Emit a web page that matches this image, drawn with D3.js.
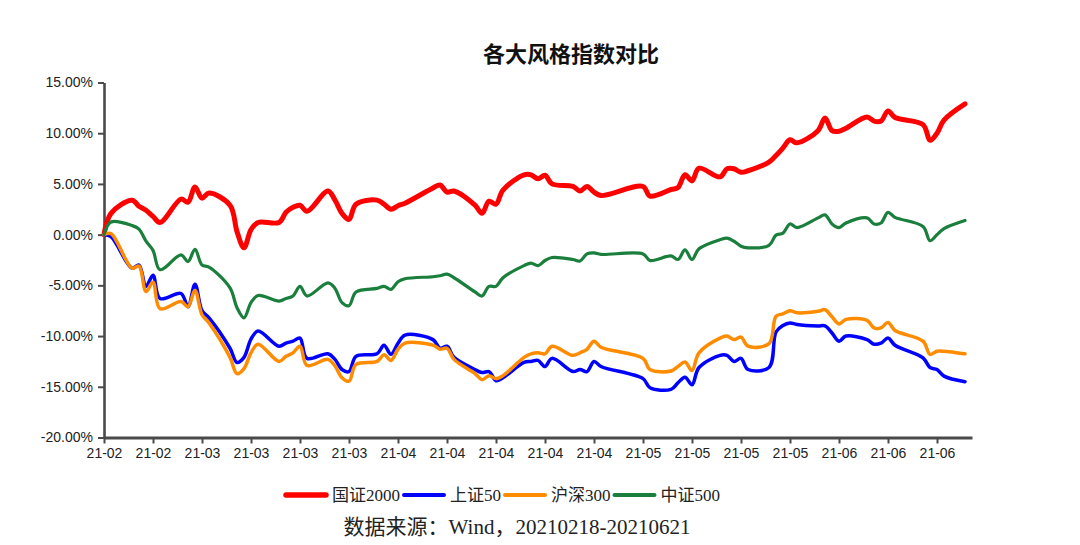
<!DOCTYPE html>
<html><head><meta charset="utf-8">
<script src="https://cdn.jsdelivr.net/npm/d3@7"></script>
<style>body{margin:0;background:#fff;} svg{display:block;}</style>
</head><body><svg id="chart" width="1080" height="545"></svg>
<script>
// ---- data ----
const dates = [
"2021-02-18","2021-02-19","2021-02-22","2021-02-23","2021-02-24","2021-02-25","2021-02-26",
"2021-03-01","2021-03-02","2021-03-03","2021-03-04","2021-03-05","2021-03-08","2021-03-09","2021-03-10","2021-03-11","2021-03-12",
"2021-03-15","2021-03-16","2021-03-17","2021-03-18","2021-03-19","2021-03-22","2021-03-23","2021-03-24","2021-03-25","2021-03-26",
"2021-03-29","2021-03-30","2021-03-31","2021-04-01","2021-04-02","2021-04-06","2021-04-07","2021-04-08","2021-04-09",
"2021-04-12","2021-04-13","2021-04-14","2021-04-15","2021-04-16","2021-04-19","2021-04-20","2021-04-21","2021-04-22","2021-04-23",
"2021-04-26","2021-04-27","2021-04-28","2021-04-29","2021-04-30","2021-05-06","2021-05-07",
"2021-05-10","2021-05-11","2021-05-12","2021-05-13","2021-05-14","2021-05-17","2021-05-18","2021-05-19","2021-05-20","2021-05-21",
"2021-05-24","2021-05-25","2021-05-26","2021-05-27","2021-05-28","2021-05-31","2021-06-01","2021-06-02","2021-06-03","2021-06-04",
"2021-06-07","2021-06-08","2021-06-09","2021-06-10","2021-06-11","2021-06-15","2021-06-16","2021-06-17","2021-06-18","2021-06-21"];

const seriesNames = ["国证2000", "上证50", "沪深300", "中证500"];

const gz2000 = [0,2.1,3.4,2.8,2.4,1.8,1.2,3.5,3.2,4.7,3.6,4.1,2.9,0.3,-1.3,0.5,1.2,1.2,2.2,2.7,
2.9,2.3,4.3,3.4,2.1,1.5,3.0,3.4,3.0,2.5,2.85,3.1,4.6,4.9,4.2,4.3,2.9,2.1,3.3,3.0,
4.4,5.9,5.9,5.5,5.85,5.0,4.75,4.3,4.75,4.2,3.85,4.75,3.8,4.45,4.65,5.9,5.3,6.55,5.7,6.5,
6.5,6.15,6.3,7.15,7.8,8.55,9.35,9.05,10.25,11.5,10.25,10.2,10.5,11.6,11.2,11.2,12.2,11.55,10.85,9.3,
10.0,11.3,12.9];

const sz50 = [0,-0.2,-3.3,-3.0,-5.1,-4.0,-6.3,-5.8,-7.1,-4.9,-7.5,-8.2,-11.2,-12.6,-12.1,-10.3,-9.5,-11.0,-10.7,-10.5,
-10.2,-12.2,-11.75,-12.3,-13.3,-13.5,-12.0,-11.75,-10.9,-11.8,-10.7,-9.9,-10.35,-11.2,-11.0,-12.1,-13.3,-13.6,-13.5,-14.4,
-14.1,-12.6,-12.5,-12.4,-13.0,-12.2,-13.5,-13.3,-13.5,-12.5,-13.0,-14.2,-15.1,-15.25,-14.6,-14.05,-14.8,-13.1,-11.9,-11.9,
-12.5,-12.2,-13.3,-13.1,-9.6,-8.95,-8.7,-8.85,-9.0,-9.0,-9.7,-10.5,-10.0,-10.35,-10.8,-10.7,-10.2,-10.9,-12.15,-13.1,
-13.3,-13.95,-14.5];

const hs300 = [0,0.1,-3.3,-3.1,-5.6,-4.7,-7.3,-6.6,-7.1,-5.5,-7.9,-8.7,-12.1,-13.7,-13.2,-11.65,-10.8,-12.5,-12.0,-11.65,
-11.0,-12.9,-12.3,-12.95,-14.1,-14.45,-12.8,-12.5,-11.85,-12.4,-11.3,-10.7,-10.9,-11.3,-11.2,-12.3,-13.7,-14.3,-13.9,-14.2,
-13.9,-12.1,-11.75,-11.65,-11.75,-11.0,-11.9,-11.65,-11.3,-10.5,-11.1,-12.2,-13.3,-13.45,-13.0,-12.55,-13.4,-11.65,-10.2,-10.0,
-10.35,-10.1,-11.0,-10.75,-8.05,-7.8,-7.5,-7.7,-7.55,-7.4,-8.1,-8.8,-8.35,-8.45,-9.2,-9.2,-8.65,-9.45,-10.5,-11.8,
-11.5,-11.5,-11.75];

const zz500 = [0,1.25,0.9,0.55,-0.65,-1.55,-3.45,-2.0,-2.65,-1.45,-3.0,-3.2,-5.25,-7.2,-8.2,-6.7,-6.0,-6.55,-6.3,-6.05,
-5.1,-6.05,-4.75,-5.3,-6.7,-7.0,-5.65,-5.3,-5.1,-5.4,-4.65,-4.35,-4.15,-4.05,-3.9,-4.25,-5.65,-6.05,-5.1,-5.1,
-4.25,-3.05,-2.8,-3.05,-2.55,-2.25,-2.45,-2.6,-1.9,-1.8,-1.95,-1.9,-2.55,-2.1,-2.45,-1.5,-2.45,-1.4,-0.5,-0.35,
-0.65,-1.15,-1.3,-1.05,-0.05,0.15,1.05,0.7,1.65,1.95,1.05,0.7,1.15,1.65,1.05,1.15,2.2,1.7,0.8,-0.6,
0.0,0.6,1.4];

const tickDates = ["2021-02-18","2021-02-25","2021-03-04","2021-03-11","2021-03-18","2021-03-25",
"2021-04-01","2021-04-08","2021-04-15","2021-04-22","2021-04-29","2021-05-06","2021-05-13","2021-05-20",
"2021-05-27","2021-06-03","2021-06-10","2021-06-17"];
const tickLabels = ["21-02","21-02","21-03","21-03","21-03","21-03","21-04","21-04","21-04","21-04","21-04",
"21-05","21-05","21-05","21-05","21-06","21-06","21-06"];
const yTicks = [15, 10, 5, 0, -5, -10, -15, -20];
const axisStart = "2021-02-18", axisEnd = "2021-06-22";

const titleText = "各大风格指数对比";
const sourceText = "数据来源：Wind，20210218-20210621";

// ---- style ----
const colors = ["#FF0000", "#0000FF", "#FF8C00", "#1A7F3C"];
const widths = [5, 3.5, 3.5, 3.2];

const svg = d3.select("#chart");
const parse = d3.utcParse("%Y-%m-%d");
const dateObjs = dates.map(parse);

const x = d3.scaleUtc().domain([parse(axisStart), parse(axisEnd)]).range([104, 972]);
const y = d3.scaleLinear().domain([-20, 15]).range([437.5, 82.5]);

// title
svg.append("text").attr("x", 571).attr("y", 62).attr("text-anchor", "middle")
  .attr("font-family", "'Noto Sans CJK SC', sans-serif").attr("font-weight", "bold")
  .attr("font-size", 22).attr("fill", "#111").text(titleText);

// y axis
const yAxis = svg.append("g").attr("transform", "translate(104,0)")
  .call(d3.axisLeft(y).tickValues(yTicks).tickFormat(d => d.toFixed(2) + "%").tickSize(6).tickSizeOuter(0).tickPadding(5));
yAxis.select(".domain").attr("stroke", "#4a4a4a").attr("stroke-width", 2.6);
yAxis.selectAll(".tick line").attr("stroke", "#4a4a4a").attr("stroke-width", 2);
yAxis.selectAll(".tick text").attr("font-family", "'Liberation Sans', Arial, sans-serif")
  .attr("font-size", 14).attr("fill", "#222");

// x axis
const xAxis = svg.append("g").attr("transform", "translate(0,437.5)")
  .call(d3.axisBottom(x).tickValues(tickDates.map(parse)).tickFormat((d, i) => tickLabels[i])
    .tickSize(6).tickSizeOuter(0).tickPadding(5));
xAxis.select(".domain").attr("stroke", "#4a4a4a").attr("stroke-width", 2.8);
xAxis.selectAll(".tick line").attr("stroke", "#4a4a4a").attr("stroke-width", 2);
xAxis.selectAll(".tick text").attr("font-family", "'Liberation Sans', Arial, sans-serif")
  .attr("font-size", 14).attr("fill", "#222");

// lines
const allSeries = [gz2000, sz50, hs300, zz500];
const line = d3.line().x((d, i) => x(dateObjs[i])).y(d => y(d)).curve(d3.curveCatmullRom.alpha(0.5));
allSeries.forEach((vals, k) => {
  svg.append("path").datum(vals).attr("d", line).attr("fill", "none")
    .attr("stroke", colors[k]).attr("stroke-width", widths[k])
    .attr("stroke-linejoin", "round").attr("stroke-linecap", "round");
});

// legend
const legend = svg.append("g");
let lx = 286;
const ly = 495;
seriesNames.forEach((name, k) => {
  legend.append("line").attr("x1", lx).attr("x2", lx + 40).attr("y1", ly).attr("y2", ly)
    .attr("stroke", colors[k]).attr("stroke-width", k === 0 ? 5.5 : 4).attr("stroke-linecap", "round");
  const t = legend.append("text").attr("x", lx + 46).attr("y", ly).attr("dominant-baseline", "central")
    .attr("font-family", "'Liberation Serif', 'Noto Sans CJK SC', serif").attr("font-size", 17)
    .attr("fill", "#222").text(name);
  lx = lx + 46 + t.node().getComputedTextLength() + 4;
});

// source
svg.append("text").attr("x", 517).attr("y", 527).attr("text-anchor", "middle").attr("dominant-baseline", "central")
  .attr("font-family", "'Liberation Serif', 'Noto Sans CJK SC', serif").attr("font-size", 21)
  .attr("fill", "#222").text(sourceText);
</script>
</body></html>
